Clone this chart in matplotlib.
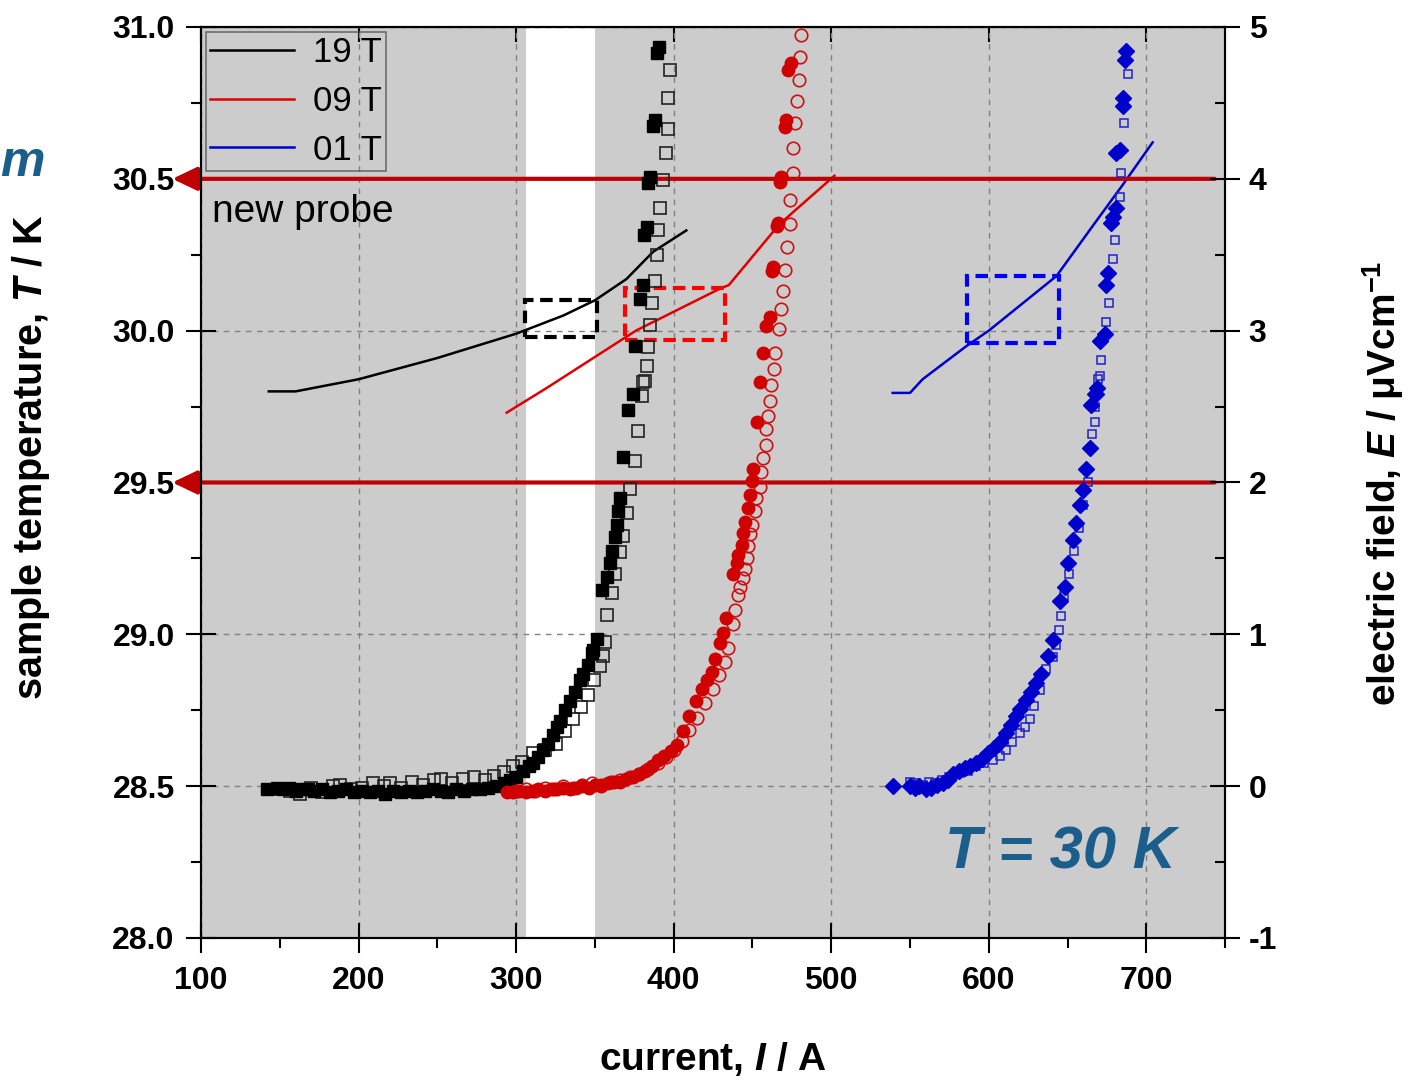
import matplotlib
matplotlib.use('Agg')
import matplotlib.pyplot as plt
from matplotlib.patches import Rectangle
from matplotlib.ticker import MultipleLocator, FormatStrFormatter

plt.rcParams['font.family'] = ['Liberation Sans', 'DejaVu Sans']
plt.rcParams['axes.unicode_minus'] = False
plt.rcParams['mathtext.fontset'] = 'custom'
plt.rcParams['mathtext.rm'] = 'Liberation Sans:bold'
plt.rcParams['mathtext.bf'] = 'Liberation Sans:bold'
plt.rcParams['mathtext.it'] = 'Liberation Sans:italic'
plt.rcParams['mathtext.bfit'] = 'Liberation Sans:bold:italic'

# sample temperature traces (left axis, K)
t19_I = [143, 160, 200, 250, 300, 330, 350, 370, 387, 408]
t19_T = [29.80, 29.80, 29.84, 29.91, 29.99, 30.05, 30.10, 30.17, 30.26, 30.33]
t09_I = [294, 319, 376, 430, 435, 467, 502]
t09_T = [29.73, 29.81, 30.00, 30.14, 30.15, 30.35, 30.51]
t01_I = [539, 550, 558, 586, 600, 643, 666, 685, 704]
t01_T = [29.795, 29.795, 29.84, 29.95, 30.00, 30.18, 30.345, 30.48, 30.62]

# electric field data (right axis, uV/cm)
bk_f_I = [142, 148, 152, 156, 160, 164, 168, 172, 177, 182, 187, 192, 197, 202, 207, 212,
          217, 222, 227, 232, 237, 242, 247, 252, 257, 262, 267, 272, 277, 282, 287, 292,
          296, 300, 304.6, 308, 311, 314, 317.3, 320.5, 323.7, 326, 327.8, 331, 334.2, 337.3,
          340.5, 342.6, 345.8, 347.9, 349.0, 351.1, 354.2, 357.4, 359.5, 360.6, 362.7, 363.8,
          364.8, 365.9, 368.0, 371.2, 374.4, 375.4, 378.6, 380.2, 381.3, 382.8, 383.8, 384.9,
          387.0, 388.1, 389.7, 390.8]
bk_f_E = [-0.02, -0.01, -0.02, -0.01, -0.03, -0.02, -0.02, -0.03, -0.02, -0.04, -0.03, -0.02,
          -0.04, -0.03, -0.04, -0.03, -0.05, -0.03, -0.04, -0.03, -0.04, -0.03, -0.02, -0.03,
          -0.04, -0.02, -0.03, -0.02, -0.02, -0.01, 0.00, 0.02, 0.04, 0.06, 0.10, 0.13, 0.15,
          0.19, 0.24, 0.28, 0.34, 0.39, 0.43, 0.50, 0.56, 0.62, 0.70, 0.74, 0.80, 0.88, 0.90,
          0.97, 1.29, 1.38, 1.47, 1.55, 1.64, 1.72, 1.81, 1.90, 2.17, 2.48, 2.58, 2.90, 3.21,
          3.30, 3.63, 3.68, 3.97, 4.01, 4.35, 4.39, 4.83, 4.87]
bk_o_I = [150, 156.5, 163, 170, 177, 184, 188, 195, 202, 209, 216, 220, 227, 234, 241, 248,
          252, 259, 266, 273, 280, 286, 292, 298.3, 304, 311, 318, 325.6, 331, 336.3, 341,
          345.8, 349.5, 353.2, 355.3, 356.3, 357.4, 360.6, 362.7, 365.9, 368.0, 370.1, 372.2,
          375.4, 377.5, 379.6, 380.7, 381.7, 382.8, 383.8, 384.9, 386.0, 388.1, 389.1, 390.1,
          391.2, 392.9, 395.1, 396.1, 396.5, 397.6]
bk_o_E = [-0.02, -0.03, -0.05, -0.01, -0.04, 0.00, 0.01, -0.02, -0.01, 0.02, 0.00, 0.02,
          -0.01, 0.03, 0.01, 0.04, 0.05, 0.02, 0.05, 0.06, 0.04, 0.07, 0.09, 0.13, 0.16, 0.22,
          0.24, 0.28, 0.36, 0.44, 0.52, 0.60, 0.70, 0.79, 0.86, 0.95, 1.13, 1.27, 1.40, 1.54,
          1.65, 1.80, 1.96, 2.14, 2.34, 2.57, 2.66, 2.67, 2.77, 2.89, 3.04, 3.18, 3.33, 3.50,
          3.66, 3.81, 3.99, 4.17, 4.33, 4.53, 4.72]
rd_f_I = [294, 298, 302, 306, 310, 314, 318, 322, 326, 330, 334, 338, 342, 346, 350, 354,
          358, 362, 366, 370, 374, 378, 382, 386, 390, 394, 398, 402, 406, 410, 414, 418, 421,
          424.0, 426.1, 429.3, 431.4, 433.5, 437.8, 439.9, 441.0, 443.1, 444.1, 445.2, 447.3,
          448.4, 449.4, 450.5, 452.6, 454.7, 456.5, 458.9, 461.0, 462.1, 463.1, 465.3, 466.3,
          467.4, 468.4, 470.6, 471.6, 472.6, 474.7]
rd_f_E = [-0.04, -0.04, -0.03, -0.04, -0.03, -0.02, -0.03, -0.02, -0.02, -0.01, -0.02, -0.01,
          0.00, -0.01, 0.01, 0.00, 0.02, 0.03, 0.03, 0.05, 0.06, 0.08, 0.10, 0.13, 0.17, 0.20,
          0.23, 0.27, 0.36, 0.46, 0.56, 0.64, 0.70, 0.75, 0.84, 0.94, 1.01, 1.11, 1.40, 1.47,
          1.52, 1.59, 1.67, 1.74, 1.83, 1.92, 2.01, 2.09, 2.40, 2.66, 2.85, 3.03, 3.09, 3.39,
          3.42, 3.69, 3.71, 3.98, 4.01, 4.34, 4.39, 4.72, 4.76]
rd_o_I = [300, 306, 312, 318, 324, 330, 336, 342, 348, 354, 360, 366, 372, 378, 384, 390,
          395, 400, 405, 410, 415, 420, 425, 429, 432.5, 434.6, 437.8, 438.9, 441.0, 442.0,
          443.7, 445.2, 446.3, 447.3, 448.4, 450.0, 451.5, 452.5, 454.6, 455.6, 456.7, 458.4,
          458.8, 459.9, 461.0, 462.0, 463.5, 464.5, 466.9, 468.0, 469.1, 470.6, 472.0, 473.7,
          473.7, 475.8, 475.8, 476.9, 478.3, 479.6, 480.0, 481.0]
rd_o_E = [-0.03, -0.02, -0.03, -0.01, -0.02, 0.00, -0.01, 0.01, 0.02, 0.01, 0.03, 0.04, 0.06,
          0.08, 0.11, 0.15, 0.19, 0.24, 0.30, 0.37, 0.45, 0.55, 0.64, 0.73, 0.82, 0.91, 1.07,
          1.16, 1.26, 1.31, 1.37, 1.43, 1.50, 1.58, 1.66, 1.72, 1.81, 1.90, 1.97, 2.07, 2.16,
          2.25, 2.35, 2.44, 2.54, 2.64, 2.75, 2.85, 3.01, 3.14, 3.26, 3.40, 3.55, 3.70, 3.86,
          4.04, 4.20, 4.37, 4.51, 4.65, 4.80, 4.95]
bl_f_I = [539.3, 549.9, 553, 556, 560, 563.6, 567, 571, 574, 577.4, 581, 585, 588, 592.1, 596,
          599.5, 603, 607, 611.1, 614, 617, 620, 623.8, 627, 630, 633.3, 637.5, 640.7, 644.9,
          648.2, 650.3, 653.4, 655.5, 657.7, 659.8, 661.9, 664.1, 665.1, 667.2, 668.2, 668.7,
          670.4, 673.6, 674.7, 675.7, 677.8, 678.9, 680.6, 681.0, 683.1, 685.3, 685.3, 686.3,
          687.4]
bl_f_E = [0.00, 0.00, -0.01, 0.00, -0.02, -0.01, 0.01, 0.02, 0.04, 0.08, 0.10, 0.12, 0.13,
          0.15, 0.18, 0.22, 0.25, 0.29, 0.35, 0.40, 0.46, 0.51, 0.57, 0.62, 0.68, 0.74, 0.86,
          0.96, 1.22, 1.31, 1.47, 1.62, 1.73, 1.85, 1.95, 2.09, 2.23, 2.51, 2.58, 2.58, 2.62,
          2.93, 2.98, 3.30, 3.38, 3.71, 3.75, 3.81, 4.17, 4.19, 4.48, 4.53, 4.78, 4.84]
bl_o_I = [549.9, 554, 558, 562, 566, 570, 575, 581.6, 587, 592, 597, 602.6, 607, 611.1, 615,
          619.7, 623, 626.0, 629, 632.3, 636.5, 640.7, 642.8, 644.5, 646.0, 648, 651, 654, 657,
          660, 663, 665.8, 667.2, 667.2, 669.3, 670.4, 671.5, 674.7, 676.3, 678.9, 679.9,
          683.1, 684.1, 685.7, 688.4]
bl_o_E = [0.03, 0.02, 0.01, 0.03, 0.02, 0.04, 0.06, 0.085, 0.10, 0.13, 0.15, 0.17, 0.20, 0.24,
          0.29, 0.35, 0.39, 0.44, 0.53, 0.63, 0.77, 0.85, 0.93, 1.03, 1.12, 1.25, 1.40, 1.55,
          1.70, 1.85, 2.00, 2.32, 2.40, 2.50, 2.68, 2.70, 2.81, 3.06, 3.18, 3.47, 3.60, 3.88,
          4.04, 4.37, 4.69]

# dashed boxes (I0, I1, T0, T1)
box_I0 = [305.6, 369.0, 586.2]
box_I1 = [351.1, 432.5, 644.6]
box_T0 = [29.98, 29.97, 29.96]
box_T1 = [30.10, 30.14, 30.18]
box_col = ['black', '#ff0000', '#0000ff']

arrow_T = [30.5, 29.5]
arrow_I_start = 743.4
gray_spans = [(100, 306), (350, 750)]

fig = plt.figure(figsize=(14.08, 10.8), dpi=100)
ax = fig.add_axes([0.1428, 0.1315, 0.7273, 0.8435])
ax2 = ax.twinx()

for a, b in gray_spans:
    ax.axvspan(a, b, color='#cccccc', lw=0, zorder=0)
ax.grid(True, which='major', ls=(0, (4, 4)), color='#808080', lw=1)

ax.plot(t19_I, t19_T, color='black', lw=1.8, label='19 T')
ax.plot(t09_I, t09_T, color='#e00000', lw=1.8, label='09 T')
ax.plot(t01_I, t01_T, color='#0000cc', lw=1.8, label='01 T')

for x0, x1, y0, y1, c in zip(box_I0, box_I1, box_T0, box_T1, box_col):
    ax.add_patch(Rectangle((x0, y0), x1 - x0, y1 - y0, fill=False, ec=c, lw=3,
                           ls=(0, (3, 1.6)), zorder=3))

for t in arrow_T:
    ax.annotate('', xy=(-0.028, t), xycoords=('axes fraction', 'data'),
                xytext=(arrow_I_start, t), textcoords='data',
                arrowprops=dict(arrowstyle='-|>,head_length=0.75,head_width=0.36',
                                mutation_scale=20, color='#c00000', lw=3,
                                shrinkA=0, shrinkB=0),
                annotation_clip=False, zorder=4)

ax2.plot(bk_o_I, bk_o_E, 's', ms=8, mfc='none', mec='#222222', mew=1.2, ls='none')
ax2.plot(bk_f_I, bk_f_E, 's', ms=8, color='black', ls='none')
ax2.plot(rd_o_I, rd_o_E, 'o', ms=9, mfc='none', mec='#d01010', mew=1.2, ls='none')
ax2.plot(rd_f_I, rd_f_E, 'o', ms=9, color='#d00000', ls='none')
ax2.plot(bl_o_I, bl_o_E, 's', ms=6, mfc='none', mec='#2020cc', mew=1.1, ls='none')
ax2.plot(bl_f_I, bl_f_E, 'D', ms=8.5, color='#0000cc', ls='none')

ax.set_xlim(100, 750)
ax.set_ylim(28.0, 31.0)
ax2.set_ylim(-1, 5)

ax.set_xticks(range(100, 701, 100))
ax.xaxis.set_minor_locator(MultipleLocator(50))
ax.yaxis.set_major_locator(MultipleLocator(0.5))
ax.yaxis.set_minor_locator(MultipleLocator(0.25))
ax.yaxis.set_major_formatter(FormatStrFormatter('%.1f'))
ax2.yaxis.set_major_locator(MultipleLocator(1))
ax2.yaxis.set_minor_locator(MultipleLocator(0.5))

ax.tick_params(axis='x', which='major', direction='inout', length=22, width=1.5, pad=9)
ax.tick_params(axis='y', which='major', direction='inout', length=22, width=1.5, pad=8)
ax.tick_params(axis='both', which='minor', direction='out', length=7, width=1.5)
ax2.tick_params(axis='y', which='major', direction='inout', length=22, width=1.5, pad=6)
ax2.tick_params(axis='y', which='minor', direction='in', length=7, width=1.5)

top = ax.secondary_xaxis('top')
top.set_xticks(range(100, 701, 100))
top.set_xticklabels([])
top.tick_params(direction='in', length=11, width=1.5)

for lbl in ax.get_xticklabels() + ax.get_yticklabels() + ax2.get_yticklabels():
    lbl.set_fontweight('bold')
    lbl.set_fontsize(23)

for a in (ax, ax2):
    for s in a.spines.values():
        s.set_linewidth(1.5)

ax.set_xlabel(r'current, $\mathbfit{I}$ / A', fontsize=28, fontweight='bold')
ax.xaxis.set_label_coords(0.5, -0.112)
ax.set_ylabel(r'sample temperature, $\mathbfit{T}$ / K', fontsize=28.5, fontweight='bold')
ax.yaxis.set_label_coords(-0.146, 0.528)
ax2.set_ylabel(r'electric field, $\mathbfit{E}$ / μVcm$^{\mathbf{-1}}$', fontsize=28,
               fontweight='bold')
ax2.yaxis.set_label_coords(1.132, 0.499)

leg = ax.legend(loc='upper left', fontsize=25, fancybox=False, edgecolor='#555555',
                facecolor='none', borderaxespad=0.15, borderpad=0.12, handlelength=2.4,
                handletextpad=0.55, labelspacing=0.45)
leg.get_frame().set_linewidth(1.2)

ax.text(0.011, 0.797, 'new probe', transform=ax.transAxes, fontsize=28, va='center')
ax.text(0.839, 0.093, 'T = 30 K', transform=ax.transAxes, fontsize=43, fontstyle='italic',
        fontweight='bold', color='#1b5e8c', ha='center', va='center')
fig.text(0.0, 0.849, 'm', fontsize=36, fontstyle='italic', fontweight='bold',
         color='#1b5e8c', ha='left', va='center')

fig.savefig('out.png', dpi=100)
